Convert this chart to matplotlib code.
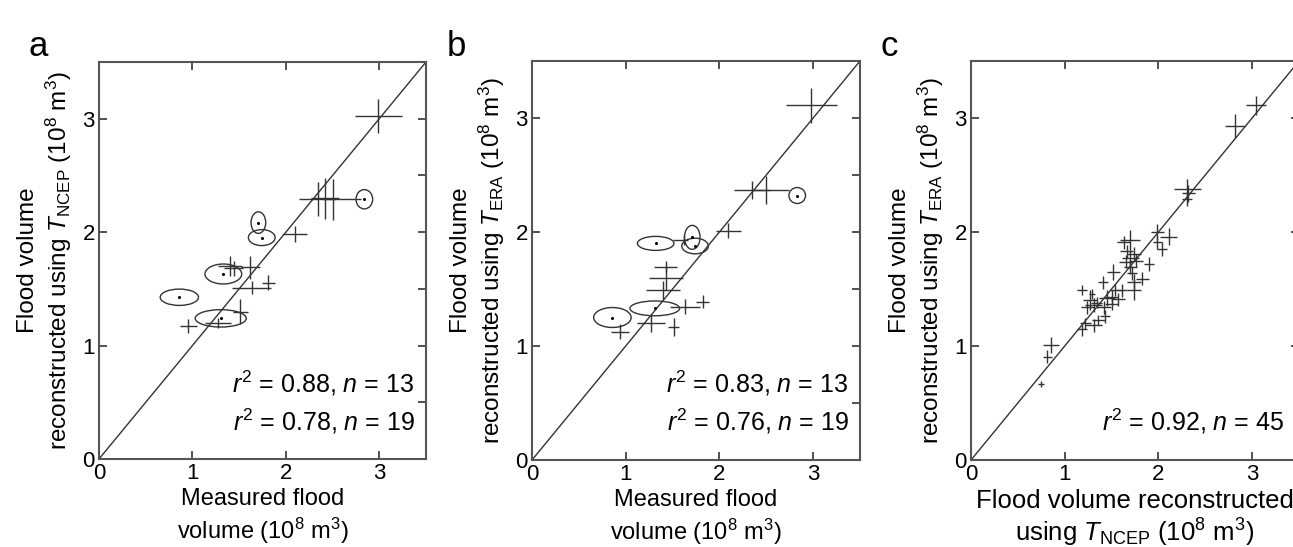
import matplotlib
matplotlib.use("Agg")
import matplotlib.pyplot as plt
from matplotlib.patches import Ellipse
from matplotlib.ticker import MultipleLocator
import numpy as np

plt.rcParams['font.family'] = ['Liberation Sans', 'DejaVu Sans']
plt.rcParams['mathtext.fontset'] = 'custom'
plt.rcParams['mathtext.rm'] = 'Liberation Sans'
plt.rcParams['mathtext.it'] = 'Liberation Sans:italic'
plt.rcParams['mathtext.bf'] = 'Liberation Sans:bold'

# ---------------- Panel a data (crosses: measured vs NCEP) ----------------
a_x = [0.956, 1.277, 1.51, 1.635, 1.81, 1.40, 1.44, 1.62, 2.10, 2.99, 2.34, 2.42, 2.50]
a_y = [1.173, 1.202, 1.30, 1.51, 1.555, 1.70, 1.68, 1.69, 1.98, 3.02, 2.29, 2.30, 2.29]
a_xerr_lo = [0.09, 0.14, 0.08, 0.21, 0.07, 0.13, 0.10, 0.10, 0.13, 0.25, 0.20, 0.15, 0.10]
a_xerr_hi = [0.09, 0.14, 0.08, 0.21, 0.07, 0.13, 0.10, 0.10, 0.13, 0.25, 0.20, 0.15, 0.30]
a_yerr = [0.06, 0.045, 0.11, 0.055, 0.066, 0.09, 0.07, 0.10, 0.07, 0.15, 0.15, 0.18, 0.18]
# ellipses (historical floods): centre x, centre y, width, height
a_ex = [1.706, 1.742, 1.331, 0.86, 1.303, 2.84]
a_ey = [2.084, 1.952, 1.631, 1.426, 1.24, 2.29]
a_ew = [0.157, 0.286, 0.393, 0.41, 0.546, 0.178]
a_eh = [0.19, 0.141, 0.176, 0.144, 0.153, 0.17]

# ---------------- Panel b data (measured vs ERA) ----------------
b_x = [2.35, 2.50, 2.096, 1.425, 1.43, 1.40, 1.63, 1.82, 1.27, 1.51, 0.94, 2.98, 1.62]
b_y = [2.37, 2.37, 2.01, 1.696, 1.594, 1.49, 1.345, 1.39, 1.20, 1.17, 1.125, 3.11, 1.93]
b_xerr_lo = [0.19, 0.15, 0.13, 0.124, 0.18, 0.18, 0.16, 0.07, 0.15, 0.06, 0.10, 0.27, 0.12]
b_xerr_hi = [0.19, 0.24, 0.13, 0.124, 0.18, 0.18, 0.16, 0.07, 0.15, 0.06, 0.10, 0.27, 0.04]
b_yerr = [0.08, 0.12, 0.066, 0.05, 0.10, 0.08, 0.066, 0.06, 0.08, 0.08, 0.066, 0.15, 0.04]
b_ex = [1.71, 1.74, 1.32, 0.858, 1.31, 2.83]
b_ey = [1.953, 1.877, 1.90, 1.25, 1.33, 2.32]
b_ew = [0.167, 0.284, 0.39, 0.40, 0.53, 0.177]
b_eh = [0.21, 0.137, 0.123, 0.175, 0.13, 0.14]

# ---------------- Panel c data (NCEP vs ERA) ----------------
c_x = [0.749, 0.816, 0.852, 1.18, 1.22, 1.31, 1.18, 1.27, 1.24, 1.31, 1.34, 1.41, 1.43, 1.45, 1.50,
       1.52, 1.57, 1.61, 1.63, 1.70, 1.65, 1.70, 1.74, 1.70, 1.72, 1.74, 1.74, 1.83, 1.90, 1.99,
       1.99, 2.04, 2.11, 2.31, 2.32, 2.30, 2.82, 3.04, 1.50, 1.29, 1.66, 1.76, 1.42, 1.36, 1.54]
c_y = [0.668, 0.907, 1.009, 1.146, 1.198, 1.18, 1.49, 1.40, 1.34, 1.36, 1.38, 1.56, 1.26, 1.42, 1.37,
       1.65, 1.41, 1.49, 1.91, 1.93, 1.74, 1.77, 1.81, 1.69, 1.64, 1.56, 1.49, 1.59, 1.72, 2.00,
       1.91, 1.85, 1.96, 2.38, 2.34, 2.29, 2.93, 3.11, 1.43, 1.46, 1.83, 1.75, 1.34, 1.23, 1.49]
c_xerr = [0.035, 0.053, 0.089, 0.053, 0.06, 0.089, 0.053, 0.071, 0.071, 0.089, 0.06, 0.053, 0.053, 0.089, 0.071,
          0.071, 0.071, 0.053, 0.071, 0.107, 0.071, 0.089, 0.071, 0.071, 0.053, 0.071, 0.071, 0.071, 0.053, 0.071,
          0.053, 0.053, 0.089, 0.143, 0.071, 0.053, 0.107, 0.107, 0.071, 0.036, 0.071, 0.071, 0.071, 0.071, 0.06]
c_yerr = [0.029, 0.058, 0.073, 0.058, 0.05, 0.058, 0.044, 0.087, 0.058, 0.058, 0.05, 0.058, 0.058, 0.073, 0.058,
          0.073, 0.058, 0.058, 0.058, 0.087, 0.058, 0.073, 0.058, 0.058, 0.058, 0.073, 0.087, 0.058, 0.058, 0.073,
          0.058, 0.058, 0.073, 0.087, 0.073, 0.058, 0.102, 0.087, 0.058, 0.044, 0.058, 0.058, 0.058, 0.044, 0.05]

ink = '#333333'

fig = plt.figure(figsize=(12.93, 5.47), dpi=100)
W, H = 1293.0, 547.0

def make_axes(left_px, right_px, top_px, bottom_px):
    return fig.add_axes([left_px / W, (H - bottom_px) / H,
                         (right_px - left_px) / W, (bottom_px - top_px) / H])

ax_a = make_axes(99, 426, 62, 459)
ax_b = make_axes(532, 860, 61, 460)
ax_c = make_axes(971, 1299, 61, 460)

def style(ax, right_minor=True):
    ax.set_xlim(0, 3.5)
    ax.set_ylim(0, 3.5)
    ax.plot([0, 3.5], [0, 3.5], color=ink, lw=1.0)
    ax.set_xticks([0, 1, 2, 3])
    ax.set_yticks([0, 1, 2, 3])
    ax.tick_params(direction='in', length=6, width=1.2, color=ink,
                   labelsize=16, top=True, right=True, pad=3)
    if right_minor:
        ax.yaxis.set_minor_locator(MultipleLocator(0.5))
        ax.tick_params(which='minor', direction='in', length=6, width=1.2,
                       color=ink, left=False, right=True)
    for s in ax.spines.values():
        s.set_color('#555555')
        s.set_linewidth(1.5)

def crosses(ax, x, y, xerr, yerr):
    ax.errorbar(x, y, xerr=xerr, yerr=yerr, fmt='none', ecolor=ink,
                elinewidth=1.0, capsize=0)

def ellipses(ax, ex, ey, ew, eh):
    for cx, cy, w, h in zip(ex, ey, ew, eh):
        ax.add_patch(Ellipse((cx, cy), w, h, fill=False, edgecolor=ink, lw=1.0))
    ax.plot(ex, ey, 'o', color='black', ms=2.2, mew=0)

style(ax_a)
crosses(ax_a, a_x, a_y, [a_xerr_lo, a_xerr_hi], a_yerr)
ellipses(ax_a, a_ex, a_ey, a_ew, a_eh)
ax_a.set_xlabel('Measured flood\nvolume (10$^8$ m$^3$)', fontsize=17, labelpad=3, linespacing=1.25)
ax_a.set_ylabel('Flood volume\nreconstructed using $T_{\\mathrm{NCEP}}$ (10$^8$ m$^3$)',
                fontsize=17.5, labelpad=6, linespacing=1.2)
ax_a.text(0.965, 0.191, '$r^2$ = 0.88, $n$ = 13', transform=ax_a.transAxes,
          ha='right', va='center', fontsize=18)
ax_a.text(0.965, 0.096, '$r^2$ = 0.78, $n$ = 19', transform=ax_a.transAxes,
          ha='right', va='center', fontsize=18)

style(ax_b)
crosses(ax_b, b_x, b_y, [b_xerr_lo, b_xerr_hi], b_yerr)
ellipses(ax_b, b_ex, b_ey, b_ew, b_eh)
ax_b.set_xlabel('Measured flood\nvolume (10$^8$ m$^3$)', fontsize=17, labelpad=3, linespacing=1.25)
ax_b.set_ylabel('Flood volume\nreconstructed using $T_{\\mathrm{ERA}}$ (10$^8$ m$^3$)',
                fontsize=17.5, labelpad=6, linespacing=1.2)
ax_b.text(0.965, 0.191, '$r^2$ = 0.83, $n$ = 13', transform=ax_b.transAxes,
          ha='right', va='center', fontsize=18)
ax_b.text(0.965, 0.096, '$r^2$ = 0.76, $n$ = 19', transform=ax_b.transAxes,
          ha='right', va='center', fontsize=18)

style(ax_c, right_minor=False)
crosses(ax_c, c_x, c_y, c_xerr, c_yerr)
ax_c.set_xlabel('Flood volume reconstructed\nusing $T_{\\mathrm{NCEP}}$ (10$^8$ m$^3$)',
                fontsize=18.5, labelpad=3, linespacing=1.15)
ax_c.set_ylabel('Flood volume\nreconstructed using $T_{\\mathrm{ERA}}$ (10$^8$ m$^3$)',
                fontsize=17.5, labelpad=6, linespacing=1.2)
ax_c.text(0.955, 0.098, '$r^2$ = 0.92, $n$ = 45', transform=ax_c.transAxes,
          ha='right', va='center', fontsize=18)

for letter, xp in [('a', 28), ('b', 447), ('c', 880)]:
    fig.text(xp / W, 1 - 46 / H, letter, fontsize=25, ha='left', va='center')

fig.savefig('out.png', dpi=100)
